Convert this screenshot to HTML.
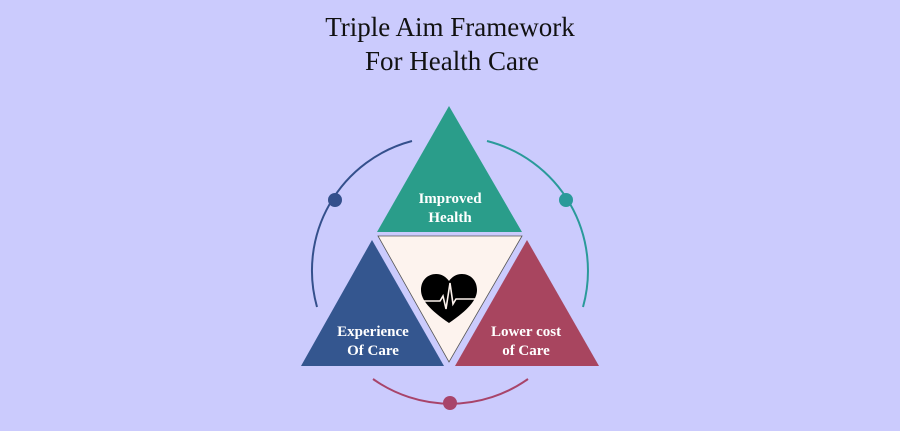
<!DOCTYPE html>
<html><head><style>
html,body{margin:0;padding:0;background:#cbcbfd;}
</style></head><body>
<svg width="900" height="426" viewBox="0 0 900 426" xmlns="http://www.w3.org/2000/svg">
<rect width="900" height="426" fill="#cbcbfd"/>
<text x="450" y="36" text-anchor="middle" font-family="Liberation Serif, serif" font-size="27" fill="#111">Triple Aim Framework</text>
<text x="452" y="70" text-anchor="middle" font-family="Liberation Serif, serif" font-size="27" fill="#111">For Health Care</text>
<g fill="none" stroke-width="2">
<path d="M412,141 A134,134 0 0 0 317,307" stroke="#34508c"/>
<path d="M487,141 A134,134 0 0 1 583,307" stroke="#2a9a9a"/>
<path d="M373,379 A134,134 0 0 0 528,379" stroke="#a8446a"/>
</g>
<circle cx="335" cy="200" r="7" fill="#34508c"/>
<circle cx="566" cy="200" r="7" fill="#2a9a9a"/>
<circle cx="450" cy="403" r="7" fill="#a8446a"/>
<polygon points="449,106 522,232 377,232" fill="#2a9d8a"/>
<polygon points="378,236 522,236 449,362" fill="#fdf3ee" stroke="#555" stroke-width="0.8"/>
<polygon points="372,240 444,366 301,366" fill="#34568f"/>
<polygon points="527,240 599,366 455,366" fill="#a8455f"/>
<g font-family="Liberation Serif, serif" font-weight="bold" font-size="15" fill="#fff" text-anchor="middle">
<text x="450" y="203">Improved</text>
<text x="450" y="222">Health</text>
<text x="373" y="336">Experience</text>
<text x="373" y="355">Of Care</text>
<text x="526" y="336">Lower cost</text>
<text x="526" y="355">of Care</text>
</g>
<path d="M449,323 C430,310 421,300 421,290 C421,280 428,274 436,274 C442,274 446,277 449,281 C452,277 456,274 462,274 C470,274 477,280 477,290 C477,300 468,310 449,323 Z" fill="#000"/>
<polyline points="421,301 440,301 443,296 446,309 450,283 453,304 456,299 477,299" fill="none" stroke="#fdf3ee" stroke-width="1.6"/>
</svg>
</body></html>
